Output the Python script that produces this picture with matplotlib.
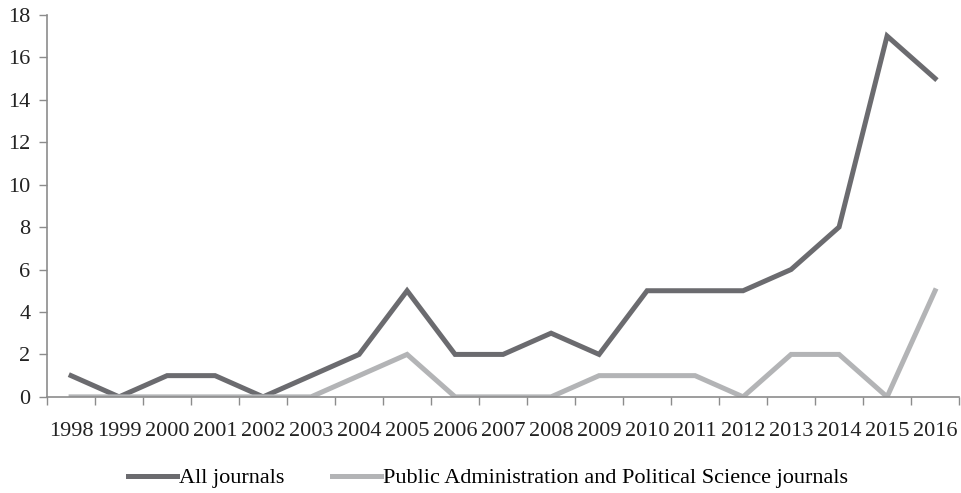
import numpy as np
from matplotlib import pyplot as plt

years = ['1998', '1999', '2000', '2001', '2002', '2003', '2004', '2005', '2006', '2007',
         '2008', '2009', '2010', '2011', '2012', '2013', '2014', '2015', '2016']
all_journals = [1, 0, 1, 1, 0, 1, 2, 5, 2, 2, 3, 2, 5, 5, 5, 6, 8, 17, 15]
pa_journals = [0, 0, 0, 0, 0, 0, 1, 2, 0, 0, 0, 1, 1, 1, 0, 2, 2, 0, 5]
yticks = list(range(0, 19, 2))

plt.rcParams['font.family'] = ['Liberation Serif', 'DejaVu Serif']

fig = plt.figure(figsize=(9.61, 4.93), dpi=100)
ax = fig.add_axes([0.049, 0.195, 0.949, 0.775])

x = np.arange(len(years))
ax.plot(x, all_journals, color='#6b6b6f', lw=3.6, solid_joinstyle='miter',
        label='All journals')
ax.plot(x, pa_journals, color='#b3b4b6', lw=3.6, solid_joinstyle='miter',
        label='Public Administration and Political Science journals')

ax.set_xlim(-0.5, len(years) - 0.5)
ax.set_ylim(0, 18)
ax.set_yticks(yticks)
ax.set_xticks(x)
ax.set_xticklabels(years)
ax.set_xticks(np.arange(len(years) + 1) - 0.5, minor=True)
ax.tick_params(axis='x', which='major', length=0, pad=18, labelsize=16, colors='#222222')
ax.tick_params(axis='x', which='minor', length=6, width=1, color='#8c8c8c', direction='out')
ax.tick_params(axis='y', length=6, width=1, color='#8c8c8c', labelsize=16,
               labelcolor='#222222', pad=6)

for s in ['top', 'right']:
    ax.spines[s].set_visible(False)
for s in ['left', 'bottom']:
    ax.spines[s].set_color('#8c8c8c')
    ax.spines[s].set_linewidth(1.2)

fig.legend(loc='center', bbox_to_anchor=(0.508, 0.03), ncol=2, frameon=False,
           fontsize=16, handlelength=2.2, handletextpad=0.1, columnspacing=2.15)

fig.savefig('out.png', dpi=100)
